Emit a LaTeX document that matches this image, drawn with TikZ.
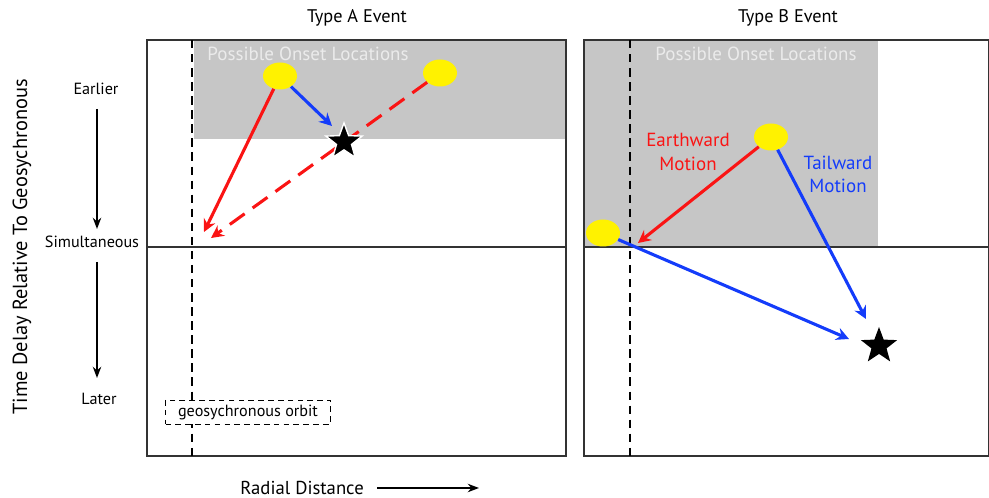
\documentclass[tikz,border=0pt]{standalone}
\usepackage{fontspec}
\setmainfont{PT Sans}
\usetikzlibrary{arrows.meta,shapes.geometric}
\definecolor{onsetgray}{RGB}{198,198,198}
\definecolor{motionblue}{RGB}{20,60,250}
\definecolor{motionred}{RGB}{250,20,20}
\tikzset{
  onset/.style={ellipse, fill=yellow, minimum width=34*0.025cm, minimum height=27*0.025cm, inner sep=0pt},
  peak/.style={star, star points=5, star point ratio=2.4, fill=black, draw=white, line width=1pt, minimum size=38*0.025cm, inner sep=0pt},
  motion/.style={line width=2.2pt, -{Stealth[length=9pt,width=9pt,inset=3pt]}},
  geoline/.style={line width=2pt, dash pattern=on 6pt off 4pt},
  label/.style={font=\fontsize{11.5}{13}\selectfont}
}
\begin{document}
\begin{tikzpicture}[x=0.025cm, y=-0.025cm]
  \useasboundingbox (0,0) rectangle (989,498);
  % shaded onset regions
  \fill[onsetgray] (194,40) rectangle (566,139);
  \fill[onsetgray] (584,40) rectangle (878,247);
  \node[text=white!92!black, font=\fontsize{13.5}{15}\selectfont] (possA) at (308,54) {Possible Onset Locations};
  \node[text=white!92!black, font=\fontsize{13.5}{15}\selectfont] (possB) at (756,54) {Possible Onset Locations};
  % panels
  \draw[line width=0.8pt, black!80] (147,40) rectangle (566,456);
  \draw[line width=0.8pt, black!80] (584,40) rectangle (989,456);
  \draw[line width=0.8pt, black!80] (147,247) -- (566,247);
  \draw[line width=0.8pt, black!80] (584,247) -- (989,247);
  % geosynchronous orbit
  \draw[geoline] (192,40) -- (192,456);
  \draw[geoline] (630,40) -- (630,456);
  \node[draw, dash pattern=on 4pt off 3pt, fill=white, label, minimum width=165*0.025cm, minimum height=22*0.025cm] (geo) at (248,412) {geosychronous orbit};
  % titles
  \node[font=\fontsize{13}{15}\selectfont] (titleA) at (357,18) {Type A Event};
  \node[font=\fontsize{13}{15}\selectfont] (titleB) at (788,18) {Type B Event};
  % Type A event
  \node[onset] (a1) at (280,76) {};
  \node[onset] (a2) at (440,73) {};
  \coordinate (atgt) at (204,232);
  \coordinate (atgt2) at (211,238);
  \draw[motion, motionred, dash pattern=on 13pt off 7pt] (a2) -- (atgt2);
  \node[peak] (astar) at (344,142) {};
  \draw[motion, motionblue] (a1) -- (332,126);
  \draw[motion, motionred] (a1) -- (atgt);
  % Type B event
  \node[onset] (b1) at (771,137) {};
  \node[onset] (b2) at (603,233) {};
  \node[peak, draw=none] (bstar) at (879,346) {};
  \coordinate (btgt) at (638,243);
  \draw[motion, motionred] (b1) -- (btgt);
  \draw[motion, motionblue] (b1) -- (866,319);
  \draw[motion, motionblue] (b2) -- (849,339);
  \node[text=motionred, align=center, font=\fontsize{13.5}{16.5}\selectfont] (earth) at (688,152) {Earthward\\Motion};
  \node[text=motionblue, align=center, font=\fontsize{13.5}{16.5}\selectfont] (tail) at (838,174) {Tailward\\Motion};
  % time axis
  \node[label] (early) at (96,89) {Earlier};
  \node[label] (simul) at (92,242) {Simultaneous};
  \node[label] (late) at (99,399) {Later};
  \draw[line width=1.2pt, -{Stealth[length=8pt,width=6pt]}] (97,109) -- (97,229);
  \draw[line width=1.2pt, -{Stealth[length=8pt,width=6pt]}] (97,262) -- (97,378);
  \node[rotate=90, font=\fontsize{14.5}{16}\selectfont] (tdelay) at (22,247) {Time Delay Relative To Geosychronous};
  % radial axis
  \node[font=\fontsize{13.3}{15}\selectfont] (radial) at (302,488) {Radial Distance};
  \coordinate (rend) at (479,488);
  \draw[line width=1.2pt, -{Stealth[length=8pt,width=6pt]}] (377,488) -- (rend);
\end{tikzpicture}
\end{document}
